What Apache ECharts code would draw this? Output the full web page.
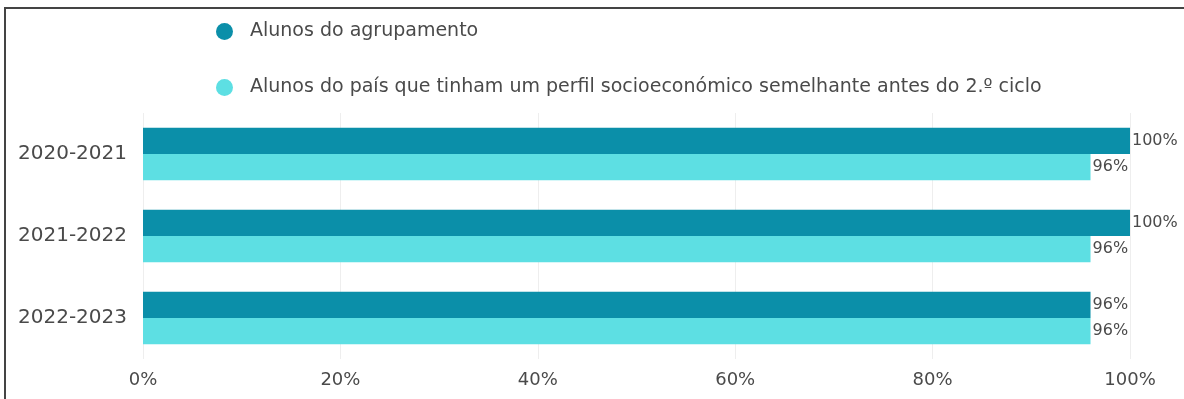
<!DOCTYPE html>
<html>
<head>
<meta charset="utf-8">
<script src="https://cdn.jsdelivr.net/npm/echarts@6/dist/echarts.min.js"></script>
<style>
  html, body { margin: 0; padding: 0; background: #fff; }
  #wrap { position: relative; width: 1184px; height: 399px; overflow: hidden; }
  #chart { width: 1184px; height: 399px; }
  #frame { position: absolute; left: 4px; top: 7px; width: 1300px; height: 500px;
           border-top: 2px solid #444; border-left: 2px solid #444; pointer-events: none; }
</style>
</head>
<body>
<div id="wrap">
  <div id="chart"></div>
  <div id="frame"></div>
</div>
<script>
// anos letivos
const categories = ['2020-2021', '2021-2022', '2022-2023'];
const seriesNames = [
  'Alunos do agrupamento',
  'Alunos do país que tinham um perfil socioeconómico semelhante antes do 2.º ciclo'
];
const agrupamento = [100, 100, 96];
const pais = [96, 96, 96];
const xTicks = [0, 20, 40, 60, 80, 100];

const fontFam = 'DejaVu Sans';

let myChart = echarts.init(document.getElementById('chart'));
let option = {
  animation: false,
  legend: {
    orient: 'vertical',
    left: 211,
    top: 17,
    itemGap: 37,
    icon: 'circle',
    itemWidth: 17,
    itemHeight: 17,
    textStyle: { fontFamily: fontFam, fontSize: 19, color: '#4a4a4a', padding: [0, 0, 0, 12] },
    data: seriesNames
  },
  grid: {
    left: 143,
    right: 54,
    top: 113,
    bottom: 40
  },
  xAxis: {
    type: 'value',
    min: 0,
    max: 100,
    interval: 20,
    axisLine: { show: false },
    axisTick: { show: false },
    splitLine: { show: true, lineStyle: { color: '#eeeeee', width: 1 } },
    axisLabel: {
      fontFamily: fontFam,
      fontSize: 18,
      color: '#4a4a4a',
      margin: 12,
      formatter: v => xTicks.includes(v) ? v + '%' : ''
    }
  },
  yAxis: {
    type: 'category',
    inverse: true,
    data: categories,
    axisLine: { show: false },
    axisTick: { show: false },
    axisLabel: { fontFamily: fontFam, fontSize: 20, color: '#4a4a4a', margin: 16 }
  },
  series: [
    {
      name: seriesNames[0],
      type: 'bar',
      data: agrupamento,
      barGap: '0%',
      barCategoryGap: '36%',
      itemStyle: { color: '#0b8fa9' },
      label: {
        show: true, position: 'right', distance: 2,
        fontFamily: fontFam, fontSize: 16, color: '#4a4a4a',
        formatter: '{c}%'
      }
    },
    {
      name: seriesNames[1],
      type: 'bar',
      data: pais,
      barGap: '0%',
      barCategoryGap: '36%',
      itemStyle: { color: '#5ddfe3' },
      label: {
        show: true, position: 'right', distance: 2,
        fontFamily: fontFam, fontSize: 16, color: '#4a4a4a',
        formatter: '{c}%'
      }
    }
  ]
};
myChart.setOption(option);
</script>
</body>
</html>
